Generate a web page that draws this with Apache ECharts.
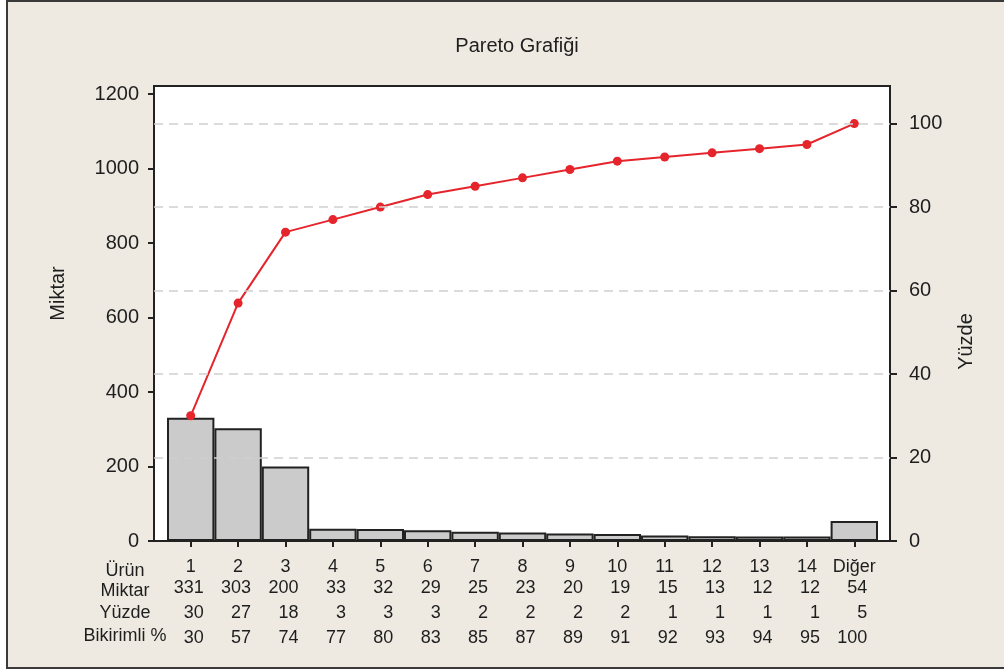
<!DOCTYPE html>
<html>
<head>
<meta charset="utf-8">
<title>Pareto Grafiği</title>
<script src="https://cdn.jsdelivr.net/npm/echarts@6/dist/echarts.min.js"></script>
<style>
	html, body { margin: 0; padding: 0; background: #fff; }
	.frame {
		position: absolute; left: 6px; top: 0px; width: 1010px; height: 665px;
		border: 2px solid #3a3a3a; background: #eeeae2;
	}
	#main { position: absolute; left: 0; top: 0; width: 1004px; height: 672px; }
</style>
</head>
<body>
<div class="frame"></div>
<div id="main"></div>
<script>
	// pareto data
	const urun = ['1', '2', '3', '4', '5', '6', '7', '8', '9', '10', '11', '12', '13', '14', 'Diğer']
	const miktar = [331, 303, 200, 33, 32, 29, 25, 23, 20, 19, 15, 13, 12, 12, 54]
	const yuzde = [30, 27, 18, 3, 3, 3, 2, 2, 2, 2, 1, 1, 1, 1, 5]
	const birikimli = [30, 57, 74, 77, 80, 83, 85, 87, 89, 91, 92, 93, 94, 95, 100]
	const rowNames = ['Ürün', 'Miktar', 'Yüzde', 'Bikirimli %']
	const leftTicks = [0, 200, 400, 600, 800, 1000, 1200]
	const rightTicks = [0, 20, 40, 60, 80, 100]
	const leftMax = 1222
	const rightMax = 109.01

	const font = 'Liberation Sans, Arial, sans-serif'
	const chart = echarts.init(document.getElementById('main'))

	let option = {
		animation: false,
		textStyle: { fontFamily: font },
		title: [{
			text: 'Pareto Grafiği',
			left: 517,
			top: 36,
			textAlign: 'center',
			padding: 0,
			textStyle: { fontFamily: font, fontSize: 20, fontWeight: 'normal', color: '#1e1e1e' }
		}, {
			// row titles of the table under the axis
			text: '{a|' + rowNames[0] + '}\n{b|' + rowNames[1] + '}\n{c|' + rowNames[2] + '}\n{d|' + rowNames[3] + '}',
			left: 125,
			top: 561,
			textAlign: 'center',
			padding: 0,
			textStyle: {
				fontFamily: font, fontSize: 18, fontWeight: 'normal', color: '#1e1e1e',
				rich: {
					a: { fontSize: 18, lineHeight: 20, color: '#1e1e1e', fontFamily: font },
					b: { fontSize: 18, lineHeight: 21, color: '#1e1e1e', fontFamily: font },
					c: { fontSize: 18, lineHeight: 22, color: '#1e1e1e', fontFamily: font },
					d: { fontSize: 18, lineHeight: 24, color: '#1e1e1e', fontFamily: font }
				}
			}
		}],
		grid: [{
			// frame of the plot
			left: 154, top: 86, width: 736, height: 455,
			show: true, backgroundColor: '#fff', borderColor: '#222', borderWidth: 2
		}, {
			// data area with padding on both sides
			left: 167, top: 86, width: 711, height: 455
		}],
		xAxis: [{
			gridIndex: 0, type: 'value', show: false, min: 0, max: 1
		}, {
			gridIndex: 1,
			type: 'category',
			data: urun,
			offset: 3,
			axisLine: { show: false },
			axisTick: { show: true, alignWithLabel: true, length: 6, lineStyle: { color: '#222', width: 2 } },
			axisLabel: {
				interval: 0,
				margin: 13,
				color: '#1e1e1e',
				formatter: function (v, i) {
					return '{a|' + v + '}\n{b|' + miktar[i] + '}\n{c|' + yuzde[i] + '}\n{d|' + birikimli[i] + '}'
				},
				rich: {
					a: { fontSize: 18, lineHeight: 20, width: 26, align: 'center', color: '#1e1e1e', fontFamily: font },
					b: { fontSize: 18, lineHeight: 22, width: 26, align: 'right', color: '#1e1e1e', fontFamily: font },
					c: { fontSize: 18, lineHeight: 28, width: 26, align: 'right', color: '#1e1e1e', fontFamily: font },
					d: { fontSize: 18, lineHeight: 22, width: 26, align: 'right', color: '#1e1e1e', fontFamily: font }
				}
			}
		}],
		yAxis: [{
			gridIndex: 0,
			type: 'value',
			position: 'left',
			min: 0,
			max: leftMax,
			name: 'Miktar',
			nameLocation: 'middle',
			nameGap: 86,
			nameRotate: 90,
			nameTextStyle: { fontSize: 20, color: '#1e1e1e', fontFamily: font, padding: [0, 0, 0, 40] },
			axisLine: { show: false },
			axisTick: { show: true, length: 6, customValues: leftTicks, lineStyle: { color: '#222', width: 2 } },
			axisLabel: {
				customValues: leftTicks, fontSize: 20, margin: 15, color: '#1e1e1e',
				formatter: v => String(v)
			},
			splitLine: { show: false }
		}, {
			gridIndex: 0,
			type: 'value',
			position: 'right',
			min: 0,
			max: rightMax,
			name: 'Yüzde',
			nameLocation: 'middle',
			nameGap: 66,
			nameRotate: 90,
			nameTextStyle: { fontSize: 20, color: '#1e1e1e', fontFamily: font, padding: [0, 56, 0, 0] },
			axisLine: { show: false },
			axisTick: { show: true, length: 7, customValues: rightTicks, lineStyle: { color: '#222', width: 2 } },
			axisLabel: {
				customValues: rightTicks, fontSize: 20, margin: 19, color: '#1e1e1e',
				formatter: v => String(v)
			},
			splitLine: { show: false }
		}, {
			gridIndex: 1, type: 'value', show: false, min: 0, max: leftMax, splitLine: { show: false }
		}, {
			gridIndex: 1, type: 'value', show: false, min: 0, max: rightMax, splitLine: { show: false }
		}],
		series: [{
			name: 'Yüzde çizgileri',
			type: 'line',
			xAxisIndex: 0,
			yAxisIndex: 1,
			data: [],
			silent: true,
			markLine: {
				symbol: 'none',
				silent: true,
				label: { show: false },
				lineStyle: { color: '#cfcfcf', type: [9, 6], width: 1.5 },
				data: rightTicks.slice(1).map(v => ({ yAxis: v }))
			}
		}, {
			name: 'Miktar',
			type: 'bar',
			xAxisIndex: 1,
			yAxisIndex: 2,
			data: miktar,
			barCategoryGap: '0%',
			itemStyle: { color: '#cbcbcb', borderColor: '#222', borderWidth: 2 }
		}, {
			name: 'Bikirimli %',
			type: 'line',
			xAxisIndex: 1,
			yAxisIndex: 3,
			data: birikimli,
			symbol: 'circle',
			symbolSize: 9,
			lineStyle: { color: '#e5242c', width: 2 },
			itemStyle: { color: '#e5242c' }
		}]
	}

	chart.setOption(option)
</script>
</body>
</html>
